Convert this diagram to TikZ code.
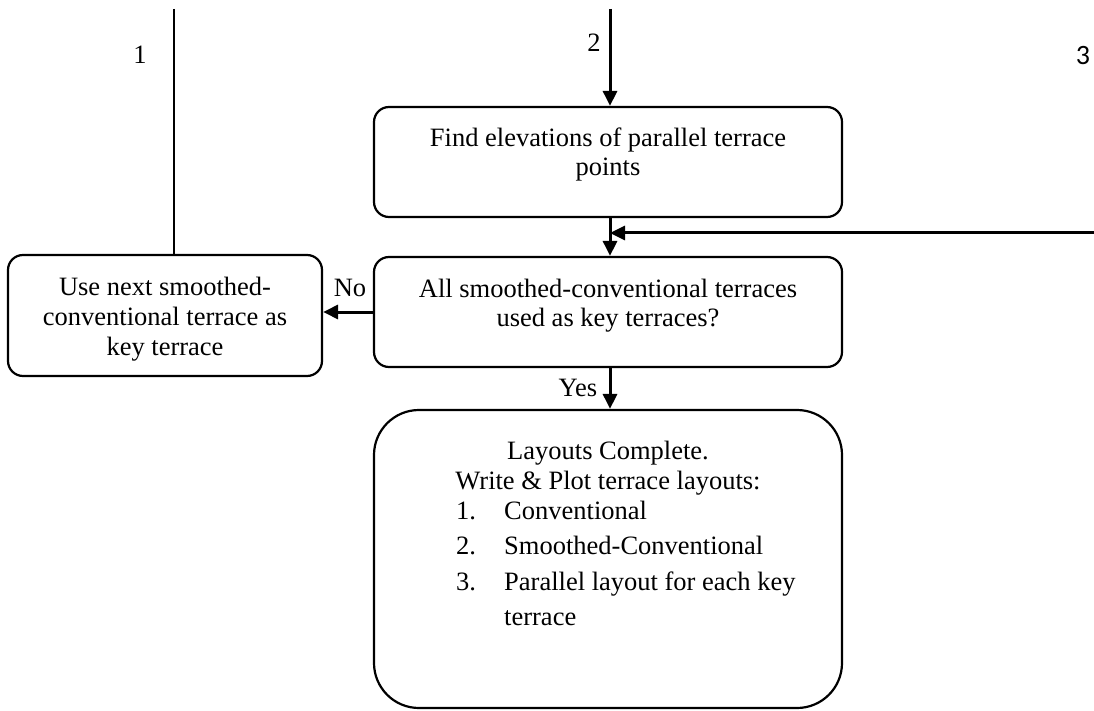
\documentclass[tikz,border=0pt]{standalone}
\usepackage{fontspec}
\setmainfont{Liberation Serif}
\newfontfamily\calib{Carlito}
\usetikzlibrary{arrows.meta}
\begin{document}
\begin{tikzpicture}[x=1pt,y=-1pt,
  font=\fontsize{26.5}{30}\selectfont,
  box/.style={draw,line width=2.2pt,rounded corners=15pt,inner sep=0pt},
  bigbox/.style={box,rounded corners=45pt},
  txt/.style={inner sep=0pt,anchor=base},
  lbl/.style={inner sep=0pt},
  plain/.style={line width=2.4pt},
  arr/.style={line width=3pt,-{Triangle[length=15pt,width=14pt]}}]
\useasboundingbox (0,0) rectangle (1094,711);
% boxes
\node[box,minimum width=468pt,minimum height=110pt] (A) at (608,162) {};
\node[box,minimum width=468pt,minimum height=110pt] (B) at (608,312) {};
\node[box,minimum width=314pt,minimum height=121pt] (D) at (165,315.5) {};
\node[bigbox,minimum width=468pt,minimum height=298pt] (C) at (608,559) {};
% box texts
\node[txt] (A1) at (608,147) {Find elevations of parallel terrace};
\node[txt] (A2) at (608,176) {points};
\node[txt] (B1) at (608,297) {All smoothed-conventional terraces};
\node[txt] (B2) at (608,326) {used as key terraces?};
\node[txt] (D1) at (165,295) {Use next smoothed-};
\node[txt] (D2) at (165,325) {conventional terrace as};
\node[txt] (D3) at (165,355) {key terrace};
\node[txt] (C1) at (608,459) {Layouts Complete.};
\node[txt] (C2) at (608,489) {Write \& Plot terrace layouts:};
\node[txt,anchor=base west] (C3n) at (456,519) {1.};
\node[txt,anchor=base west] (C3) at (504,519) {Conventional};
\node[txt,anchor=base west] (C4n) at (456,554) {2.};
\node[txt,anchor=base west] (C4) at (504,554) {Smoothed-Conventional};
\node[txt,anchor=base west] (C5n) at (456,590) {3.};
\node[txt,anchor=base west] (C5) at (504,590) {Parallel layout for each key};
\node[txt,anchor=base west] (C6) at (504,625) {terrace};
% free ends
\coordinate (t1) at (174,9);
\coordinate (t2) at (610,9);
\coordinate (t3) at (1094,233);
% labels
\node[lbl] (L1) at (140,55) {1};
\node[lbl] (L2) at (594,43) {2};
\node[lbl,font=\calib\fontsize{28}{30}\selectfont] (L3) at (1083,56) {3};
\node[lbl] (No) at (350,288) {No};
\node[lbl] (Yes) at (578,388) {Yes};
% connectors
\draw[plain] (t1) -- (t1 |- D.north);
\draw[arr] (t2) -- (t2 |- A.north);
\draw[arr] (t2 |- A.south) -- (t2 |- B.north);
\draw[arr] (t3) -- (t3 -| t2);
\draw[arr] (B.west) -- (D.east |- B.west);
\draw[arr] (t2 |- B.south) -- (t2 |- C.north);
\end{tikzpicture}
\end{document}
